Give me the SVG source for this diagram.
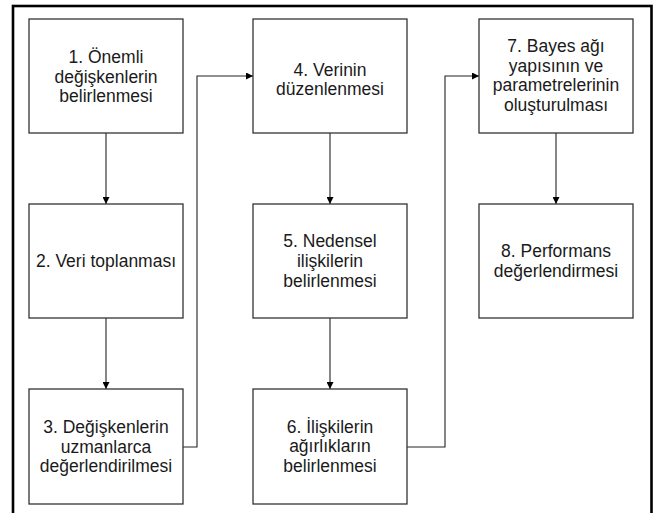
<svg xmlns="http://www.w3.org/2000/svg" width="657" height="513" viewBox="0 0 657 513">
<style>
.box{fill:#fff;stroke:#333;stroke-width:1.3}
.t{font-family:"Liberation Sans",Arial,sans-serif;font-size:17.5px;fill:#1a1a1a;text-anchor:middle}
.c{fill:none;stroke:#222;stroke-width:1.1}
.ca{fill:none;stroke:#222;stroke-width:1.1;marker-end:url(#ah)}
</style>
<defs>
<marker id="ah" viewBox="0 0 10 10" refX="10" refY="5" markerWidth="7" markerHeight="7" markerUnits="userSpaceOnUse" orient="auto">
<path d="M0,0 L10,5 L0,10 z" fill="#000"/>
</marker>
</defs>
<rect x="0" y="0" width="657" height="513" fill="#fff"/>
<rect x="13" y="6" width="638.5" height="530" fill="none" stroke="#000" stroke-width="2.6"/>
<g id="connectors">
<line class="ca" x1="106" y1="133" x2="106" y2="204"/>
<line class="ca" x1="106" y1="318" x2="106" y2="389"/>
<polyline class="ca" points="183,447 197,447 197,76 253,76"/>
<line class="ca" x1="330" y1="133" x2="330" y2="204"/>
<line class="ca" x1="330" y1="318" x2="330" y2="389"/>
<polyline class="ca" points="407,447 445,447 445,76 479,76"/>
<line class="ca" x1="556" y1="133" x2="556" y2="204"/>
</g>
<g id="n1"><rect class="box" x="29" y="19" width="154" height="114"/>
<text class="t" x="106" y="63">1. Önemli</text><text class="t" x="106" y="82.5">değişkenlerin</text><text class="t" x="106" y="102">belirlenmesi</text></g>
<g id="n2"><rect class="box" x="29" y="204" width="154" height="114"/>
<text class="t" x="106" y="267">2. Veri toplanması</text></g>
<g id="n3"><rect class="box" x="29" y="389" width="154" height="115"/>
<text class="t" x="106" y="433">3. Değişkenlerin</text><text class="t" x="106" y="452.5">uzmanlarca</text><text class="t" x="106" y="472">değerlendirilmesi</text></g>
<g id="n4"><rect class="box" x="253" y="19" width="154" height="114"/>
<text class="t" x="330" y="75.5">4. Verinin</text><text class="t" x="330" y="94.5">düzenlenmesi</text></g>
<g id="n5"><rect class="box" x="253" y="204" width="154" height="114"/>
<text class="t" x="330" y="247">5. Nedensel</text><text class="t" x="330" y="267">ilişkilerin</text><text class="t" x="330" y="287">belirlenmesi</text></g>
<g id="n6"><rect class="box" x="253" y="389" width="154" height="115"/>
<text class="t" x="330" y="433">6. İlişkilerin</text><text class="t" x="330" y="452">ağırlıkların</text><text class="t" x="330" y="472">belirlenmesi</text></g>
<g id="n7"><rect class="box" x="479" y="19" width="154" height="114"/>
<text class="t" x="556" y="52">7. Bayes ağı</text><text class="t" x="556" y="71.5">yapısının ve</text><text class="t" x="556" y="91">parametrelerinin</text><text class="t" x="556" y="110.5">oluşturulması</text></g>
<g id="n8"><rect class="box" x="479" y="204" width="154" height="114"/>
<text class="t" x="556" y="257">8. Performans</text><text class="t" x="556" y="277">değerlendirmesi</text></g>
</svg>
